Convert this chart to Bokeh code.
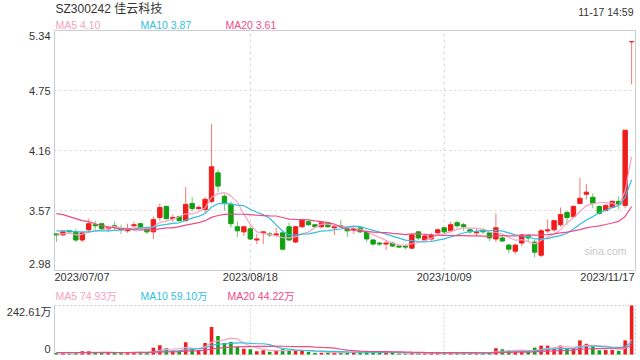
from bokeh.plotting import figure
from bokeh.models import Range1d, ColumnDataSource
from bokeh.core.properties import value
from bokeh.embed import file_html
from bokeh.resources import INLINE

# ---------------- data ----------------
dates = (["2023/07/%02d" % d for d in [7, 10, 11, 12, 13, 14, 17, 18, 19, 20, 21, 24, 25, 26, 27, 28, 31]] +
         ["2023/08/%02d" % d for d in [1, 2, 3, 4, 7, 8, 9, 10, 11, 14, 15, 16, 17, 18, 21, 22, 23, 24, 25, 28, 29, 30, 31]] +
         ["2023/09/%02d" % d for d in [1, 4, 5, 6, 7, 8, 11, 12, 13, 14, 15, 18, 19, 20, 21, 22, 25, 26, 27, 28]] +
         ["2023/10/%02d" % d for d in [9, 10, 11, 12, 13, 16, 17, 18, 19, 20, 23, 24, 25, 26, 27, 30, 31]] +
         ["2023/11/%02d" % d for d in [1, 2, 3, 6, 7, 8, 9, 10, 13, 14, 15, 16, 17]])

open_ = [3.34, 3.33, 3.37, 3.36, 3.28, 3.38, 3.43, 3.44, 3.39, 3.42,
         3.39, 3.37, 3.42, 3.44, 3.40, 3.36, 3.50, 3.61, 3.49, 3.51,
         3.47, 3.64, 3.59, 3.58, 3.66, 3.94, 3.71, 3.63, 3.41, 3.36,
         3.39, 3.28, 3.35, 3.34, 3.33, 3.35, 3.41, 3.26, 3.41, 3.46,
         3.43, 3.41, 3.45, 3.40, 3.42, 3.39, 3.38, 3.40, 3.36, 3.28,
         3.25, 3.24, 3.25, 3.22, 3.22, 3.20, 3.36, 3.28, 3.29, 3.35,
         3.40, 3.37, 3.45, 3.43, 3.38, 3.35, 3.38, 3.35, 3.29, 3.30,
         3.23, 3.17, 3.25, 3.32, 3.26, 3.13, 3.37, 3.38, 3.43, 3.55,
         3.51, 3.64, 3.73, 3.70, 3.61, 3.57, 3.60, 3.66, 3.62, 5.23]
high = [3.35, 3.37, 3.38, 3.39, 3.35, 3.49, 3.47, 3.45, 3.42, 3.46,
        3.43, 3.44, 3.46, 3.45, 3.41, 3.51, 3.64, 3.62, 3.53, 3.52,
        3.80, 3.70, 3.62, 3.70, 4.42, 3.97, 3.73, 3.66, 3.46, 3.42,
        3.41, 3.34, 3.36, 3.36, 3.40, 3.37, 3.45, 3.42, 3.49, 3.47,
        3.44, 3.46, 3.46, 3.43, 3.48, 3.40, 3.41, 3.41, 3.37, 3.29,
        3.26, 3.28, 3.26, 3.23, 3.24, 3.34, 3.36, 3.34, 3.35, 3.39,
        3.41, 3.46, 3.47, 3.45, 3.39, 3.39, 3.40, 3.36, 3.54, 3.32,
        3.24, 3.24, 3.34, 3.34, 3.28, 3.39, 3.48, 3.48, 3.60, 3.57,
        3.62, 3.89, 3.83, 3.74, 3.62, 3.63, 3.67, 3.71, 4.36, 5.23]
low = [3.26, 3.32, 3.34, 3.26, 3.26, 3.36, 3.38, 3.37, 3.36, 3.38,
       3.34, 3.35, 3.41, 3.39, 3.34, 3.29, 3.47, 3.48, 3.46, 3.46,
       3.46, 3.56, 3.57, 3.55, 3.64, 3.75, 3.57, 3.40, 3.31, 3.32,
       3.28, 3.24, 3.24, 3.31, 3.31, 3.18, 3.27, 3.25, 3.40, 3.42,
       3.40, 3.40, 3.40, 3.33, 3.40, 3.31, 3.34, 3.35, 3.26, 3.22,
       3.22, 3.18, 3.21, 3.20, 3.19, 3.19, 3.28, 3.27, 3.26, 3.34,
       3.34, 3.35, 3.40, 3.37, 3.34, 3.32, 3.34, 3.27, 3.26, 3.26,
       3.15, 3.14, 3.22, 3.26, 3.11, 3.11, 3.35, 3.36, 3.41, 3.43,
       3.50, 3.63, 3.68, 3.59, 3.53, 3.56, 3.59, 3.58, 3.59, 4.81]
close = [3.33, 3.36, 3.36, 3.28, 3.35, 3.44, 3.42, 3.39, 3.40, 3.41,
         3.38, 3.38, 3.43, 3.40, 3.36, 3.48, 3.60, 3.49, 3.50, 3.47,
         3.63, 3.59, 3.60, 3.68, 4.00, 3.81, 3.64, 3.44, 3.37, 3.41,
         3.29, 3.29, 3.36, 3.33, 3.34, 3.19, 3.28, 3.41, 3.48, 3.43,
         3.41, 3.45, 3.41, 3.41, 3.41, 3.37, 3.39, 3.36, 3.29, 3.24,
         3.24, 3.25, 3.22, 3.21, 3.21, 3.33, 3.30, 3.32, 3.33, 3.38,
         3.36, 3.43, 3.42, 3.41, 3.36, 3.36, 3.36, 3.30, 3.40, 3.27,
         3.19, 3.23, 3.33, 3.30, 3.16, 3.37, 3.38, 3.47, 3.53, 3.50,
         3.61, 3.69, 3.75, 3.64, 3.54, 3.62, 3.66, 3.63, 4.36, 5.23]
# volume in 万 (10k shares)
volume = [8, 8, 5, 8, 16, 16, 8, 10, 10, 8,
          10, 8, 8, 10, 8, 33, 46, 31, 18, 18,
          61, 30, 21, 57, 136, 92, 57, 62, 38, 28,
          26, 16, 21, 13, 18, 26, 21, 21, 18, 13,
          8, 8, 8, 10, 13, 13, 10, 13, 13, 10,
          10, 10, 8, 5, 5, 10, 8, 8, 8, 8,
          8, 8, 10, 8, 8, 8, 8, 8, 31, 26,
          20, 18, 15, 15, 34, 44, 44, 29, 44, 30,
          32, 70, 53, 40, 21, 22, 22, 18, 70, 242.61]

# moving-average values before enough in-window data exist
ma5_head = [3.34, 3.34, 3.35, 3.33]
ma10_head = [3.37, 3.37, 3.37, 3.36, 3.36, 3.36, 3.37, 3.37, 3.37]
ma20_head = [3.54, 3.53, 3.51, 3.49, 3.47, 3.46, 3.44, 3.42, 3.41, 3.40,
             3.39, 3.39, 3.38, 3.38, 3.38, 3.38, 3.39, 3.40, 3.40]
vma5_head = [8, 8, 8, 8]
vma10_head = [9, 9, 9, 9, 9, 9, 9, 9, 9]
vma20_head = [10, 10, 10, 10, 10, 10, 10, 10, 10, 10,
              10, 10, 10, 11, 11, 12, 12, 13, 13]

price_ticks = [2.98, 3.57, 4.16, 4.75, 5.34]
vol_max = 242.61
title_text = "SZ300242 佳云科技"
time_text = "11-17 14:59"
price_legend = ["MA5 4.10", "MA10 3.87", "MA20 3.61"]
vol_legend = ["MA5 74.93万", "MA10 59.10万", "MA20 44.22万"]
date_ticks = ["2023/07/07", "2023/08/18", "2023/10/09", "2023/11/17"]

# ---------------- derived ----------------
def moving_avg(vals, n, head):
    out = list(head)
    for i in range(len(head), len(vals)):
        out.append(sum(vals[i - n + 1:i + 1]) / n)
    return out

RED = "#f01c1c"
GREEN = "#11a011"
C5, C10, C20 = "#f7a2c3", "#34bfe2", "#ee4b85"
FONT = value("Liberation Sans, Noto Sans CJK SC")
GRID = "#d6d6d6"
BORDER = "#cccccc"

idx = list(range(len(dates)))
up = [c >= o for o, c in zip(open_, close)]
colors = [RED if u else GREEN for u in up]
src = ColumnDataSource(dict(
    x=idx, high=high, low=low,
    top=[max(o, c) for o, c in zip(open_, close)],
    bottom=[min(o, c) for o, c in zip(open_, close)],
    color=colors, vol=volume,
    ma5=moving_avg(close, 5, ma5_head),
    ma10=moving_avg(close, 10, ma10_head),
    ma20=moving_avg(close, 20, ma20_head),
    vma5=moving_avg(volume, 5, vma5_head),
    vma10=moving_avg(volume, 10, vma10_head),
    vma20=moving_avg(volume, 20, vma20_head),
))

# ---------------- layout (pixels on the 640x360 canvas) ----------------
W, H = 640, 360
PX_L, PX_R = 54, 635           # left / right edge of both panels
P_TOP, P_BOT = 30, 270         # price panel top / bottom
V_TOP, V_BOT = 305, 354        # volume panel top / bottom
X_AT_L, X_AT_R = -0.3, 89.6    # index values at the panel edges
ylo, yhi = price_ticks[0], price_ticks[-1]

KX = (PX_R - PX_L) / (X_AT_R - X_AT_L)
KY = (P_BOT - P_TOP) / (yhi - ylo)
KV = (V_BOT - V_TOP) / vol_max

def cx2x(cx):
    return X_AT_L + (cx - PX_L) / KX

def cy2y(cy):
    return yhi - (cy - P_TOP) / KY

def cy2v(cy):
    return vol_max - (cy - V_TOP) / KV

xr = Range1d(cx2x(0), cx2x(W))
p = figure(width=W, height=H, x_range=xr, y_range=Range1d(cy2y(H), cy2y(0)),
           output_backend="svg", toolbar_location=None,
           x_axis_location=None, y_axis_location=None,
           min_border=0, min_border_left=0, min_border_right=0,
           min_border_top=0, min_border_bottom=0)
p.extra_y_ranges = {"vol": Range1d(cy2v(H), cy2v(0))}
p.outline_line_color = None
for g in p.grid:
    g.visible = False
p.background_fill_color = "white"
p.border_fill_color = "white"

xl, xrt = cx2x(PX_L), cx2x(PX_R)
date_idx = [dates.index(d) for d in date_ticks]
mid = price_ticks[1:-1]

# grid lines
p.segment(x0=[xl] * len(mid), x1=[xrt] * len(mid), y0=mid, y1=mid,
          line_color=GRID, line_dash="2 3", line_width=1)
p.segment(x0=date_idx[1:3], x1=date_idx[1:3], y0=[ylo] * 2, y1=[yhi] * 2,
          line_color=GRID, line_dash="3 3", line_width=1)
p.segment(x0=date_idx[1:3], x1=date_idx[1:3], y0=[0] * 2, y1=[vol_max] * 2,
          line_color=GRID, line_dash="2 2", line_width=1, y_range_name="vol")
# panel frames
p.quad(left=[xl], right=[xrt], bottom=[ylo], top=[yhi], fill_color=None,
       line_color=BORDER, line_width=1)
p.quad(left=[xl], right=[xrt], bottom=[0], top=[vol_max], fill_color=None,
       line_color=BORDER, line_dash="2 2", line_width=1, y_range_name="vol")
p.segment(x0=[xl], x1=[xl], y0=[0], y1=[vol_max], line_color=BORDER,
          line_width=1, y_range_name="vol")

# candles
p.segment(x0="x", y0="low", x1="x", y1="high", source=src, line_color="color",
          line_alpha=0.6, line_width=1)
p.vbar(x="x", width=0.68, top="top", bottom="bottom", source=src,
       fill_color="color", line_color="color", line_width=1)
p.line("x", "ma5", source=src, line_color=C5, line_width=1.2)
p.line("x", "ma10", source=src, line_color=C10, line_width=1.2)
p.line("x", "ma20", source=src, line_color=C20, line_width=1.2)

# volume
p.vbar(x="x", width=0.55, top="vol", bottom=0, source=src, fill_color="color",
       line_color=None, y_range_name="vol")
p.line("x", "vma5", source=src, line_color=C5, line_width=1.2, y_range_name="vol")
p.line("x", "vma10", source=src, line_color=C10, line_width=1.2, y_range_name="vol")
p.line("x", "vma20", source=src, line_color=C20, line_width=1.2, y_range_name="vol")

def txt(xs, ys, texts, color="#333333", size="11px", align="left", **kw):
    p.text(x=xs, y=ys, text=texts, text_color=color, text_font=FONT,
           text_font_size=size, text_align=align, text_baseline="middle", **kw)

# header
txt([cx2x(55)], [cy2y(8)], [title_text], size="12px")
txt([cx2x(633)], [cy2y(11)], [time_text], size="10.5px", align="right")
for t, c, cx in zip(price_legend, [C5, C10, C20], [55, 140, 225]):
    txt([cx2x(cx)], [cy2y(24)], [t], color=c, size="10.5px")

# price axis labels
ylab_x = cx2x(50)
txt([ylab_x] * len(mid), mid, ["%.2f" % t for t in mid], align="right")
txt([ylab_x], [cy2y(35)], ["%.2f" % yhi], align="right")
txt([ylab_x], [cy2y(263)], ["%.2f" % ylo], align="right")

# watermark
txt([cx2x(626)], [cy2y(250)], ["sina.com"], color="#c8c8c8", size="10.5px", align="right")

# date labels
dy = cy2y(276)
txt([xl], [dy], [date_ticks[0]], align="left")
txt(date_idx[1:3], [dy, dy], date_ticks[1:3], align="center")
txt([cx2x(634)], [dy], [date_ticks[3]], align="right")

# volume legend and labels
for t, c, cx in zip(vol_legend, [C5, C10, C20], [55, 140, 227]):
    txt([cx2x(cx)], [cy2v(295)], [t], color=c, size="10.5px", y_range_name="vol")
txt([cx2x(51)], [cy2v(311)], ["%.2f万" % vol_max], align="right", y_range_name="vol")
txt([cx2x(50)], [cy2v(348)], ["0"], align="right", y_range_name="vol")

open("out.html", "w").write(file_html(p, INLINE))
